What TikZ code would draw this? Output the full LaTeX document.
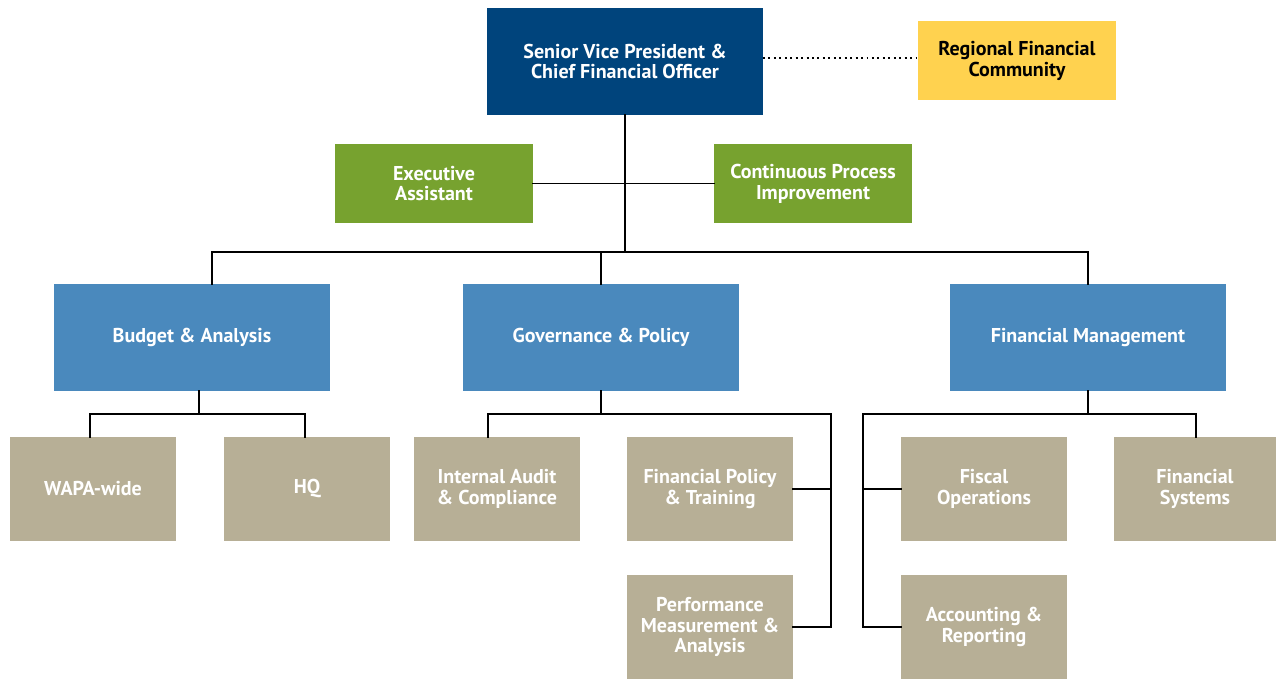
\documentclass[tikz,border=0pt]{standalone}
\usepackage{fontspec}
\setmainfont{PT Sans}
\usepackage{xcolor}
\usetikzlibrary{positioning, calc}

\definecolor{chiefblue}{HTML}{00447C}
\definecolor{deptblue}{HTML}{4A89BD}
\definecolor{staffgreen}{HTML}{77A22F}
\definecolor{regionyellow}{HTML}{FFD24F}
\definecolor{unittan}{HTML}{B7AF96}

\begin{document}
\begin{tikzpicture}[
    box/.style={inner sep=0pt, outer sep=0pt, align=center, text=white, font=\bfseries\fontsize{11.4}{11.9}\selectfont},
    chief/.style={box, fill=chiefblue, minimum width=5.52cm, minimum height=2.14cm},
    region/.style={box, fill=regionyellow, text=black, minimum width=3.96cm, minimum height=1.58cm},
    staff/.style={box, fill=staffgreen, minimum width=3.96cm, minimum height=1.58cm},
    dept/.style={box, fill=deptblue, minimum width=5.52cm, minimum height=2.14cm},
    unit/.style={box, fill=unittan, minimum width=3.32cm, minimum height=2.08cm},
    link/.style={line width=1.1pt, line cap=rect},
    dotlink/.style={line width=1.1pt, dotted}
]
    \useasboundingbox (0,0) rectangle (25.52,-13.58);

    % Top of the chart
    \node[chief] (svp) at (12.5, -1.23) {Senior Vice President \&\\Chief Financial Officer};
    \node[region] (regional) at (20.34, -1.21) {Regional Financial\\Community};
    \coordinate (dotend) at ([yshift=0.5mm]regional.west);
    \draw[dotlink] (svp.east |- dotend) -- (dotend);

    % Staff offices
    \node[staff] (exec) at (8.68, -3.67) {Executive\\Assistant};
    \node[staff] (cpi) at (16.26, -3.67) {Continuous Process\\Improvement};
    \draw[link] (exec.east) -- (cpi.west);

    % Divisions
    \node[dept] (budget) at (3.84, -6.75) {Budget \& Analysis};
    \node[dept] (gov) at (12.02, -6.75) {Governance \& Policy};
    \node[dept] (fm) at (21.76, -6.75) {Financial Management};

    \coordinate (bus) at (12.52, -5.04);
    \draw[link] (svp.south) -- (svp.south |- bus);
    \draw[link] ([xshift=4mm]budget.north) |- (bus) -| (fm.north);
    \draw[link] (gov.north) -- (gov.north |- bus);

    % Budget & Analysis
    \node[unit] (wapa) at (1.86, -9.78) {WAPA-wide};
    \node[unit] (hq) at (6.14, -9.78) {HQ};
    \coordinate (budgetbus) at (3.98, -8.28);
    \draw[link] ([xshift=1.4mm]budget.south) -- ([xshift=1.4mm]budget.south |- budgetbus);
    \draw[link] ([xshift=-0.6mm]wapa.north) |- (budgetbus) -| ([xshift=-0.4mm]hq.north);

    % Governance & Policy
    \node[unit] (audit) at (9.94, -9.78) {Internal Audit\\\& Compliance};
    \node[unit] (policy) at (14.2, -9.78) {Financial Policy\\\& Training};
    \node[unit] (perf) at (14.2, -12.54) {Performance\\Measurement \&\\Analysis};
    \coordinate (govbus) at (16.62, -8.28);
    \draw[link] (gov.south) -- (gov.south |- govbus);
    \draw[link] ([xshift=-1.8mm]audit.north) |- (govbus) |- (perf.east);
    \draw[link] (policy.east) -- (policy.east -| govbus);

    % Financial Management
    \node[unit] (fiscal) at (19.68, -9.78) {Fiscal\\Operations};
    \node[unit, minimum width=3.24cm] (systems) at (23.9, -9.78) {Financial\\Systems};
    \node[unit] (acct) at (19.68, -12.54) {Accounting \&\\Reporting};
    \coordinate (fmbus) at (17.26, -8.28);
    \draw[link] (fm.south) -- (fm.south |- fmbus);
    \draw[link] (acct.west) -| (fmbus) -| ([xshift=0.2mm]systems.north);
    \draw[link] (fiscal.west) -- (fiscal.west -| fmbus);
\end{tikzpicture}
\end{document}
